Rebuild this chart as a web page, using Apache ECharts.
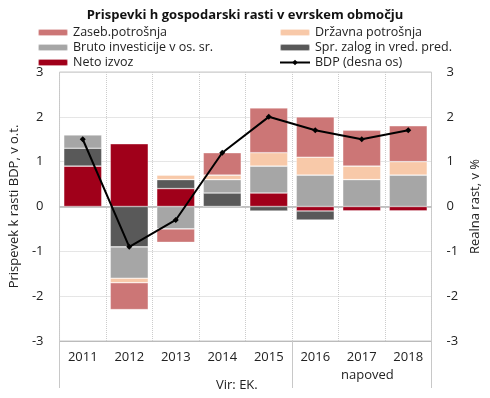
<!DOCTYPE html>
<html>
<head>
<meta charset="utf-8">
<script src="https://cdn.jsdelivr.net/npm/echarts@6/dist/echarts.min.js"></script>
<style>
  html, body { margin: 0; padding: 0; background: #fff; }
  #chart { width: 490px; height: 398px; }
</style>
</head>
<body>
<div id="chart"></div>
<script>
const years = ['2011', '2012', '2013', '2014', '2015', '2016', '2017', '2018'];
// prispevki k rasti BDP, v o.t.
const netoIzvoz = [0.9, 1.4, 0.4, 0, 0.3, -0.1, -0.1, -0.1];
const sprZalog  = [0.4, -0.9, 0.2, 0.3, -0.1, -0.2, 0, 0];
const brutoInv  = [0.3, -0.7, -0.5, 0.3, 0.6, 0.7, 0.6, 0.7];
const drzavna   = [0, -0.1, 0.1, 0.1, 0.3, 0.4, 0.3, 0.3];
const zaseb     = [0, -0.6, -0.3, 0.5, 1.0, 0.9, 0.8, 0.8];
// realna rast BDP, v %
const bdp = [1.5, -0.9, -0.3, 1.2, 2.0, 1.7, 1.5, 1.7];
// meje skupin pod osjo (zgodovina / napoved)
const groupEdges = [0, 5, 8];

const font = 'Open Sans';
const chart = echarts.init(document.getElementById('chart'));

function barSeries(name, data, color) {
  return {
    name: name,
    type: 'bar',
    stack: 'prispevki',
    data: data,
    barWidth: 38,
    itemStyle: { color: color, borderColor: 'rgba(255,255,255,0.6)', borderWidth: 0.6 }
  };
}

const legendText = { fontFamily: font, fontSize: 12.5, color: '#222' };

chart.setOption({
  animation: false,
  textStyle: { fontFamily: font },
  title: {
    text: 'Prispevki h gospodarski rasti v evrskem območju',
    left: 'center',
    top: 4,
    textStyle: { fontFamily: font, fontSize: 13, fontWeight: 'bold', color: '#111' }
  },
  legend: [
    {
      left: 32, top: 21, orient: 'vertical', itemWidth: 30, itemHeight: 7, itemGap: 2,
      data: ['Zaseb.potrošnja', 'Bruto investicije v os. sr.', 'Neto izvoz'],
      textStyle: legendText
    },
    {
      left: 274, top: 21, orient: 'vertical', itemWidth: 30, itemHeight: 7, itemGap: 2,
      data: ['Državna potrošnja', 'Spr. zalog in vred. pred.', 'BDP (desna os)'],
      textStyle: legendText
    }
  ],
  grid: { left: 44, right: 47, top: 72, bottom: 57, show: true, borderColor: '#c8c8c8', borderWidth: 1 },
  xAxis: [
    {
      type: 'category',
      data: years,
      axisLine: { onZero: false, lineStyle: { color: '#bbb' } },
      axisTick: { show: false },
      axisLabel: { color: '#222', fontSize: 13, fontFamily: font, margin: 10 },
      splitLine: { show: true, lineStyle: { color: '#ccc', type: 'dotted' } }
    },
    {
      type: 'value',
      position: 'bottom',
      min: 0, max: 8,
      axisLine: { show: false, onZero: false },
      axisTick: { show: true, customValues: groupEdges, length: 47, inside: false, lineStyle: { color: '#c8c8c8' } },
      axisLabel: { show: false },
      splitLine: { show: false }
    }
  ],
  yAxis: [
    {
      type: 'value',
      min: -3, max: 3, interval: 1,
      name: 'Prispevek k rasti BDP, v o.t.',
      nameLocation: 'middle',
      nameGap: 30,
      nameTextStyle: { fontFamily: font, fontSize: 13, color: '#222' },
      axisLine: { show: false },
      axisTick: { show: false },
      axisLabel: { color: '#222', fontSize: 13, fontFamily: font, margin: 16 },
      splitLine: { show: true, lineStyle: { color: '#ccc', type: 'dotted' } }
    },
    {
      type: 'value',
      min: -3, max: 3, interval: 1,
      name: 'Realna rast, v %',
      nameLocation: 'middle',
      nameGap: 31,
      nameTextStyle: { fontFamily: font, fontSize: 13, color: '#222' },
      axisLine: { show: false },
      axisTick: { show: false },
      axisLabel: { color: '#222', fontSize: 13, fontFamily: font, margin: 15 },
      splitLine: { show: false }
    }
  ],
  graphic: [
    { type: 'text', left: 216, top: 379, style: { text: 'Vir: EK.', font: '13px "Open Sans"', fill: '#222' } },
    { type: 'text', left: 341, top: 369, style: { text: 'napoved', font: '13px "Open Sans"', fill: '#222' } }
  ],
  series: [
    barSeries('Neto izvoz', netoIzvoz, '#a0001a'),
    barSeries('Spr. zalog in vred. pred.', sprZalog, '#595959'),
    barSeries('Bruto investicije v os. sr.', brutoInv, '#a6a6a6'),
    barSeries('Državna potrošnja', drzavna, '#f8c9a9'),
    barSeries('Zaseb.potrošnja', zaseb, '#cc7676'),
    {
      name: 'BDP (desna os)',
      type: 'line',
      yAxisIndex: 1,
      data: bdp,
      symbol: 'diamond',
      symbolSize: 6,
      lineStyle: { color: '#000', width: 2 },
      itemStyle: { color: '#000' },
      z: 5,
      markLine: {
        silent: true,
        symbol: 'none',
        label: { show: false },
        lineStyle: { color: '#b5b5b5', type: 'solid', width: 1.5 },
        data: [{ yAxis: 0 }],
        z: 1
      }
    }
  ]
});
</script>
</body>
</html>
